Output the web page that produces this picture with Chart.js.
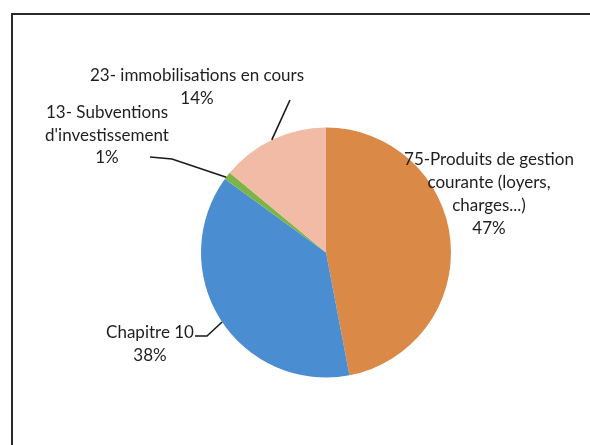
<!DOCTYPE html>
<html>
<head>
<meta charset="utf-8">
<script src="https://cdn.jsdelivr.net/npm/chart.js@4/dist/chart.umd.min.js"></script>
<style>
  html, body { margin: 0; padding: 0; background: #fff; }
  #wrap { position: relative; width: 590px; height: 445px; }
</style>
</head>
<body>
<div id="wrap"><canvas id="c" width="590" height="445"></canvas></div>
<script>
// Data
const categories = [
  "75-Produits de gestion courante (loyers, charges...)",
  "Chapitre 10",
  "13- Subventions d'investissement",
  "23- immobilisations en cours"
];
const values = [47, 38, 1, 14];
const percentLabels = ["47%", "38%", "1%", "14%"];
const labelLines = [
  ["75-Produits de gestion", "courante (loyers,", "charges...)"],
  ["Chapitre 10"],
  ["13- Subventions", "d'investissement"],
  ["23- immobilisations en cours"]
];
const colors = ["#DA8947", "#4A8DD0", "#7CB446", "#F1BBA6"];

// Label layout (text centers, leader elbows, where along the arc the leader touches)
const labelLayout = [
  { x: 489, y: 160, lh: 22.7, leader: null },
  { x: 150, y: 333, lh: 22.5, leader: [[195, 336], [207, 336]], at: 0.49 },
  { x: 107, y: 113, lh: 22.5, leader: [[150, 157], [172, 159]], at: 0.3 },
  { x: 197, y: 76, lh: 22.5, leader: [[290, 100]], at: 0.49 }
];

const labelPlugin = {
  id: 'pieLabels',
  afterDatasetsDraw(chart) {
    const ctx = chart.ctx;
    const meta = chart.getDatasetMeta(0);
    ctx.save();
    meta.data.forEach((arc, i) => {
      const L = labelLayout[i];
      const p = arc.getProps(['x', 'y', 'startAngle', 'endAngle', 'outerRadius'], true);
      if (L.leader) {
        const a = p.startAngle + (p.endAngle - p.startAngle) * L.at;
        const ex = p.x + Math.cos(a) * p.outerRadius;
        const ey = p.y + Math.sin(a) * p.outerRadius;
        ctx.beginPath();
        ctx.strokeStyle = '#1a1a1a';
        ctx.lineWidth = 1.6;
        ctx.moveTo(L.leader[0][0], L.leader[0][1]);
        for (let k = 1; k < L.leader.length; k++) ctx.lineTo(L.leader[k][0], L.leader[k][1]);
        ctx.lineTo(ex, ey);
        ctx.stroke();
      }
      ctx.fillStyle = '#1e1e1e';
      ctx.font = '17px Lato, "Open Sans", sans-serif';
      ctx.textAlign = 'center';
      ctx.textBaseline = 'middle';
      const lines = labelLines[i].concat([percentLabels[i]]);
      lines.forEach((t, k) => ctx.fillText(t, L.x, L.y + k * L.lh));
    });
    // frame (only top and left edges fall inside the picture)
    ctx.strokeStyle = '#2a2a2a';
    ctx.lineWidth = 2;
    ctx.strokeRect(12, 14, 620, 500);
    ctx.restore();
  }
};

new Chart(document.getElementById('c'), {
  type: 'pie',
  data: {
    labels: categories,
    datasets: [{
      data: values,
      backgroundColor: colors,
      borderWidth: 0
    }]
  },
  options: {
    responsive: false,
    animation: false,
    layout: { padding: { left: 201, right: 139, top: 127, bottom: 67 } },
    plugins: {
      legend: { display: false },
      tooltip: { enabled: false }
    }
  },
  plugins: [labelPlugin]
});
</script>
</body>
</html>
